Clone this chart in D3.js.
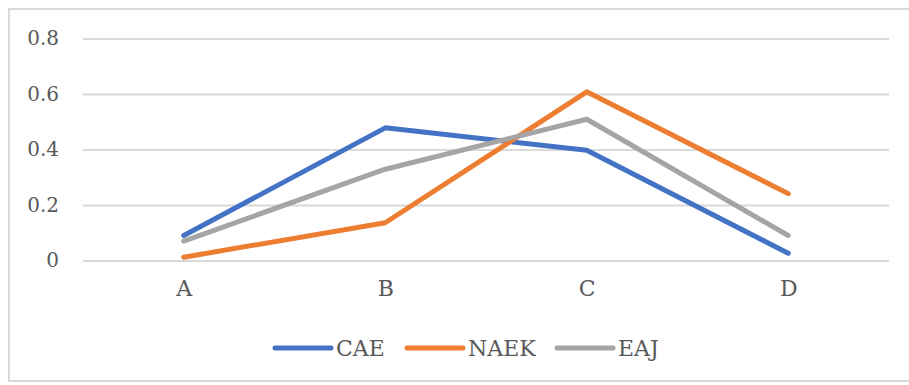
<!DOCTYPE html>
<html>
<head>
<meta charset="utf-8">
<script src="https://cdn.jsdelivr.net/npm/d3@7/dist/d3.min.js"></script>
<style>
  html, body { margin: 0; padding: 0; background: #fff; }
  svg { display: block; }
  text { font-family: "DejaVu Serif", "Liberation Serif", serif; fill: #595959; }
</style>
</head>
<body>
<svg id="chart" width="909" height="385"></svg>
<script>
// Categories, series and axis ticks
const categories = ["A", "B", "C", "D"];
const seriesNames = ["CAE", "NAEK", "EAJ"];
const cae  = [0.09, 0.478, 0.397, 0.026];
const naek = [0.012, 0.136, 0.608, 0.241];
const eaj  = [0.07, 0.329, 0.509, 0.09];
const yTicks = [0, 0.2, 0.4, 0.6, 0.8];
const yTickLabels = ["0", "0.2", "0.4", "0.6", "0.8"];
const colors = ["#4472C4", "#ED7D31", "#A5A5A5"];

const series = [cae, naek, eaj].map((values, i) => ({ name: seriesNames[i], values, color: colors[i] }));

const svg = d3.select("#chart");

// chart frame
svg.append("rect")
  .attr("x", 9).attr("y", 9)
  .attr("width", 910).attr("height", 372)
  .attr("fill", "none")
  .attr("stroke", "#D9D9D9")
  .attr("stroke-width", 2);

const x = d3.scalePoint().domain(categories).range([83, 889]).padding(0.5);
const y = d3.scaleLinear().domain([0, 0.8]).range([260.5, 38.5]);

// horizontal gridlines + value labels
const yAxis = d3.axisLeft(y)
  .tickValues(yTicks)
  .tickFormat((d, i) => yTickLabels[i])
  .tickSize(-(889 - 83))
  .tickPadding(24);

const gy = svg.append("g").attr("transform", "translate(83,0)").call(yAxis);
gy.select(".domain").remove();
gy.selectAll(".tick line").attr("stroke", "#D9D9D9").attr("stroke-width", 2);
gy.selectAll(".tick text").style("font-size", "20px");

// category labels
const xAxis = d3.axisBottom(x).tickSize(0).tickPadding(20);
const gx = svg.append("g").attr("transform", "translate(0,260.5)").call(xAxis);
gx.select(".domain").remove();
gx.selectAll(".tick text").style("font-size", "22px");

// series lines
const line = d3.line()
  .x((d, i) => x(categories[i]))
  .y(d => y(d));

svg.append("g").selectAll("path")
  .data(series)
  .join("path")
  .attr("d", d => line(d.values))
  .attr("fill", "none")
  .attr("stroke", d => d.color)
  .attr("stroke-width", 5)
  .attr("stroke-linecap", "round")
  .attr("stroke-linejoin", "round");

// legend
const legendX = [275, 407, 557];
const legend = svg.append("g").selectAll("g")
  .data(series)
  .join("g")
  .attr("transform", (d, i) => `translate(${legendX[i]},348)`);

legend.append("line")
  .attr("x1", 0).attr("x2", 56)
  .attr("y1", 0).attr("y2", 0)
  .attr("stroke", d => d.color)
  .attr("stroke-width", 5)
  .attr("stroke-linecap", "round");

legend.append("text")
  .attr("x", 61)
  .attr("y", 0)
  .attr("dy", "0.35em")
  .style("font-size", "22px")
  .text(d => d.name);
</script>
</body>
</html>
